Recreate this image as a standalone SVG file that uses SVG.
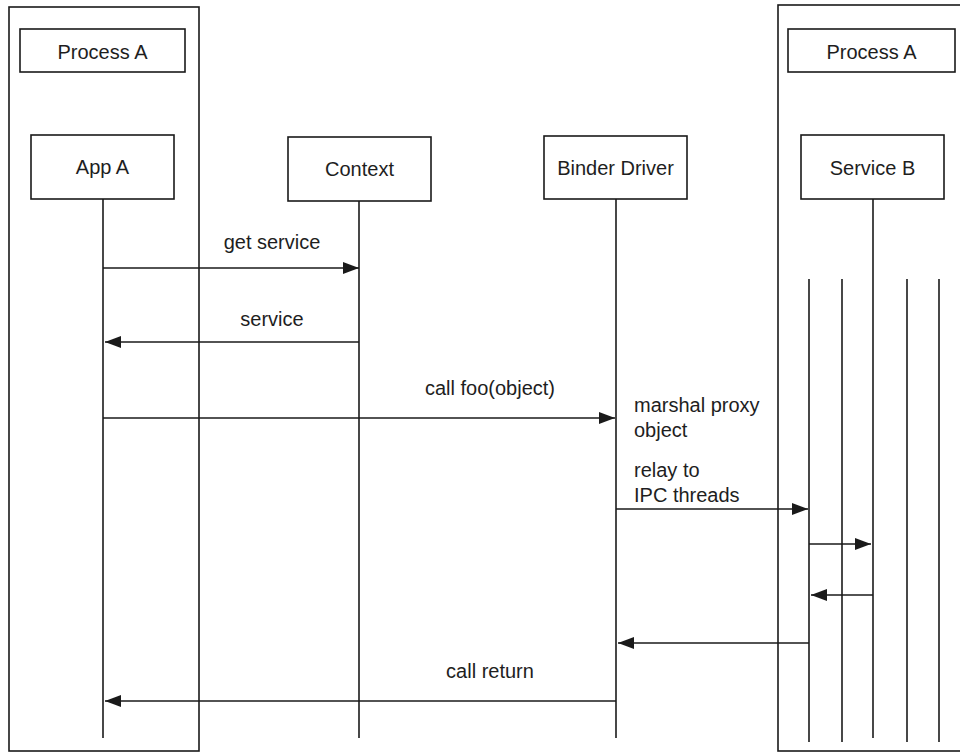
<svg xmlns="http://www.w3.org/2000/svg" width="960" height="753" viewBox="0 0 960 753">
  <style>
    .frame { fill: none; stroke: #1a1a1a; stroke-width: 1.6; }
    .box { fill: #fff; stroke: #1a1a1a; stroke-width: 1.6; }
    .life { stroke: #1a1a1a; stroke-width: 1.6; fill: none; }
    .msg { stroke: #1a1a1a; stroke-width: 1.6; fill: none; marker-end: url(#arrow); }
    text { font-family: "Liberation Sans", Arial, Helvetica, sans-serif; font-size: 20px; fill: #1e1e1e; }
    .c { text-anchor: middle; }
  </style>
  <defs>
    <marker id="arrow" viewBox="0 0 16 12" refX="16" refY="6" markerWidth="16" markerHeight="12" markerUnits="userSpaceOnUse" orient="auto">
      <path d="M0,0 L16,6 L0,12 Z" fill="#1a1a1a"/>
    </marker>
  </defs>

  <rect width="960" height="753" fill="#fff"/>

  <!-- process frames -->
  <g id="process-left">
    <rect class="frame" x="9" y="7" width="190" height="744"/>
    <rect class="box" x="20" y="29" width="165" height="43"/>
    <text class="c" x="102.5" y="59">Process A</text>
  </g>
  <g id="process-right">
    <rect class="frame" x="778" y="5" width="190" height="746"/>
    <rect class="box" x="788" y="29" width="167" height="43"/>
    <text class="c" x="871.5" y="59">Process A</text>
  </g>

  <!-- participants -->
  <g id="app-a">
    <rect class="box" x="31" y="135" width="143" height="64"/>
    <text class="c" x="102.5" y="174">App A</text>
    <line class="life" x1="103" y1="199" x2="103" y2="738"/>
  </g>
  <g id="context">
    <rect class="box" x="288" y="137" width="143" height="64"/>
    <text class="c" x="359.5" y="176">Context</text>
    <line class="life" x1="359" y1="201" x2="359" y2="738"/>
  </g>
  <g id="binder-driver">
    <rect class="box" x="544" y="136" width="143" height="63"/>
    <text class="c" x="615.5" y="175">Binder Driver</text>
    <line class="life" x1="616" y1="199" x2="616" y2="738"/>
  </g>
  <g id="service-b">
    <rect class="box" x="801" y="135" width="143" height="64"/>
    <text class="c" x="872.5" y="175">Service B</text>
    <line class="life" x1="873" y1="199" x2="873" y2="738"/>
  </g>

  <!-- IPC thread pool lines -->
  <g id="ipc-threads">
    <line class="life" x1="809" y1="279" x2="809" y2="742"/>
    <line class="life" x1="842" y1="279" x2="842" y2="742"/>
    <line class="life" x1="907" y1="279" x2="907" y2="742"/>
    <line class="life" x1="939" y1="279" x2="939" y2="742"/>
  </g>

  <!-- messages -->
  <g id="connectors">
    <line class="msg" x1="103" y1="268" x2="359" y2="268"/>
    <line class="msg" x1="359" y1="342" x2="105" y2="342"/>
    <line class="msg" x1="103" y1="418" x2="615" y2="418"/>
    <line class="msg" x1="616" y1="509" x2="808" y2="509"/>
    <line class="msg" x1="809" y1="544" x2="871" y2="544"/>
    <line class="msg" x1="873" y1="595" x2="811" y2="595"/>
    <line class="msg" x1="809" y1="643" x2="618" y2="643"/>
    <line class="msg" x1="616" y1="701" x2="105" y2="701"/>
  </g>

  <!-- message labels -->
  <g id="labels">
    <text class="c" x="272" y="249">get service</text>
    <text class="c" x="272" y="326">service</text>
    <text class="c" x="490" y="395">call foo(object)</text>
    <text x="634" y="412">marshal proxy</text>
    <text x="634" y="437">object</text>
    <text x="634" y="477">relay to</text>
    <text x="634" y="502">IPC threads</text>
    <text class="c" x="490" y="678">call return</text>
  </g>
</svg>
